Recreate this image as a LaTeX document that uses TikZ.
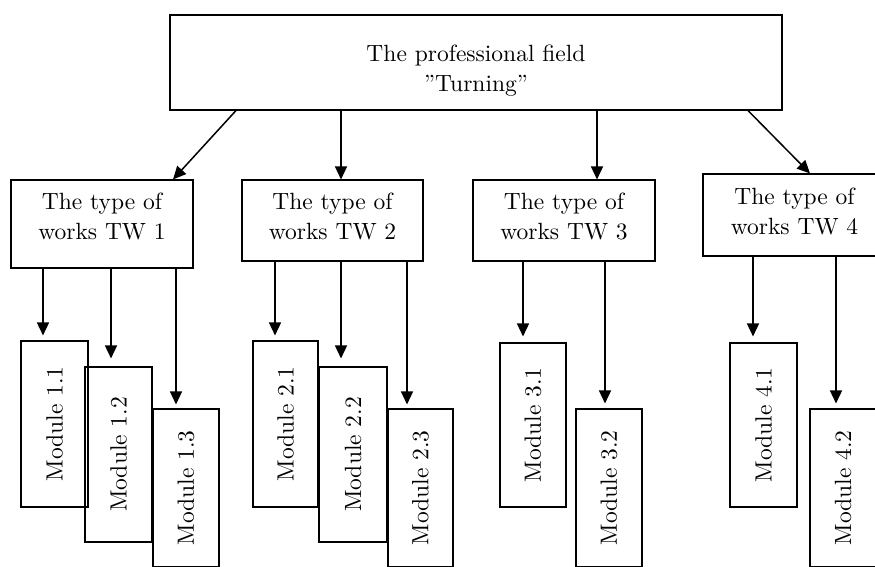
\documentclass[tikz,border=0pt]{standalone}
\usepackage{fontspec}
\setmainfont{lmroman10-regular}[Extension=.otf]
\usetikzlibrary{arrows.meta}
\tikzset{
  box/.style={draw=black, line width=1.1pt, rectangle, inner sep=0pt},
  modbox/.style={box, font=\fontsize{23.5}{30}\selectfont},
  arr/.style={-{Triangle[length=13pt,width=12pt]}, line width=1.5pt},
  txt/.style={align=center, inner sep=0pt, font=\fontsize{23.5}{30}\selectfont}
}
\begin{document}
\begin{tikzpicture}[x=1pt,y=-1pt]
\clip (0,0) rectangle (875,567);
% top box
\node[box, minimum width=612pt, minimum height=95pt] (top) at (476,62.5) {};
\node[txt] (toptxt) at (476,71) {The professional field\\”Turning”};
% type-of-works boxes
\node[box, minimum width=182pt, minimum height=88pt] (tw1) at (102,224) {};
\node[txt] (tw1t) at (102,216.5) {The type of\\works TW 1};
\node[box, minimum width=181pt, minimum height=81pt] (tw2) at (332.5,220.5) {};
\node[txt] (tw2t) at (332.5,216.5) {The type of\\works TW 2};
\node[box, minimum width=182pt, minimum height=81pt] (tw3) at (564,220.5) {};
\node[txt] (tw3t) at (564,216.5) {The type of\\works TW 3};
\node[box, minimum width=183pt, minimum height=82pt] (tw4) at (794.5,215) {};
\node[txt] (tw4t) at (794.5,211) {The type of\\works TW 4};
% modules
\node[modbox, minimum width=67pt, minimum height=166pt] (m11) at (54.5,424) {\rotatebox{90}{Module 1.1}};
\node[modbox, minimum width=67pt, minimum height=175pt] (m12) at (118.5,454.5) {\rotatebox{90}{Module 1.2}};
\node[modbox, minimum width=66pt, minimum height=158pt] (m13) at (186,488) {\rotatebox{90}{Module 1.3}};
\node[modbox, minimum width=65pt, minimum height=166pt] (m21) at (285.5,424) {\rotatebox{90}{Module 2.1}};
\node[modbox, minimum width=68pt, minimum height=175pt] (m22) at (353,454.5) {\rotatebox{90}{Module 2.2}};
\node[modbox, minimum width=65pt, minimum height=158pt] (m23) at (420.5,488) {\rotatebox{90}{Module 2.3}};
\node[modbox, minimum width=66pt, minimum height=164pt] (m31) at (533,425) {\rotatebox{90}{Module 3.1}};
\node[modbox, minimum width=66pt, minimum height=158pt] (m32) at (609,488) {\rotatebox{90}{Module 3.2}};
\node[modbox, minimum width=67pt, minimum height=164pt] (m41) at (763.5,425) {\rotatebox{90}{Module 4.1}};
\node[modbox, minimum width=66pt, minimum height=158pt] (m42) at (843,488) {\rotatebox{90}{Module 4.2}};
% arrows from top
\draw[arr] (236,0 |- top.south) -- (173,0 |- tw1.north);
\draw[arr] (341,0 |- top.south) -- (341,0 |- tw2.north);
\draw[arr] (597,0 |- top.south) -- (597,0 |- tw3.north);
\draw[arr] (748,0 |- top.south) -- (810,0 |- tw4.north);
% arrows to modules
\draw[arr, shorten >=5pt] (43,0 |- tw1.south) -- (43,0 |- m11.north);
\draw[arr, shorten >=8pt] (111,0 |- tw1.south) -- (111,0 |- m12.north);
\draw[arr, shorten >=4pt] (176,0 |- tw1.south) -- (176,0 |- m13.north);
\draw[arr, shorten >=5pt] (275,0 |- tw2.south) -- (275,0 |- m21.north);
\draw[arr, shorten >=8pt] (341,0 |- tw2.south) -- (341,0 |- m22.north);
\draw[arr, shorten >=4pt] (407,0 |- tw2.south) -- (407,0 |- m23.north);
\draw[arr, shorten >=6pt] (523,0 |- tw3.south) -- (523,0 |- m31.north);
\draw[arr, shorten >=5pt] (605,0 |- tw3.south) -- (605,0 |- m32.north);
\draw[arr, shorten >=6pt] (753,0 |- tw4.south) -- (753,0 |- m41.north);
\draw[arr, shorten >=5pt] (836,0 |- tw4.south) -- (836,0 |- m42.north);
\end{tikzpicture}
\end{document}
